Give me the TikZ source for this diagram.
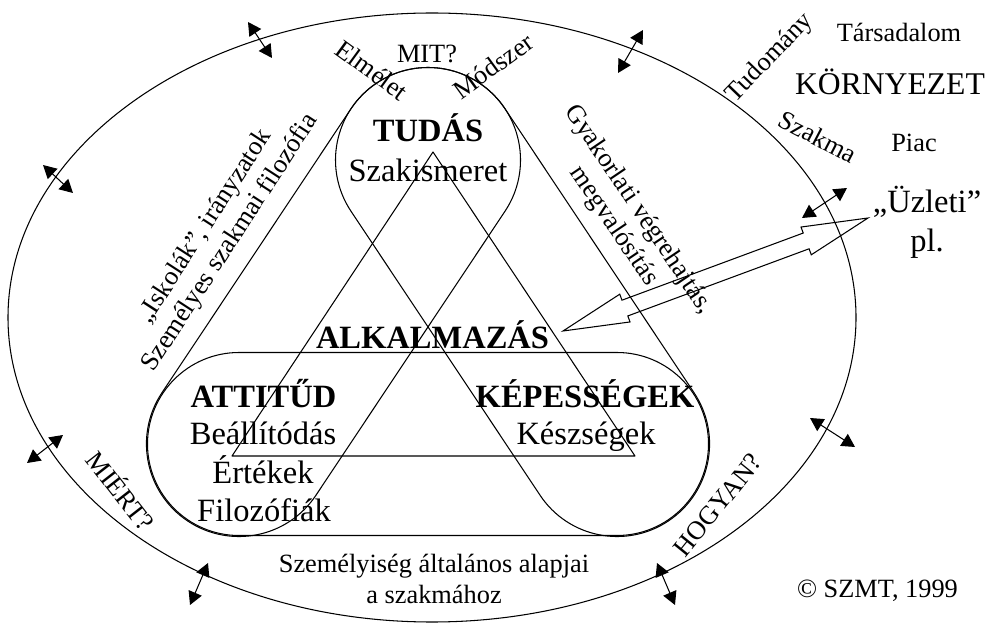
\documentclass[tikz,border=0pt]{standalone}
\usepackage{fontspec}
\setmainfont{Liberation Serif}
\usetikzlibrary{arrows.meta}

\tikzset{
  lbl/.style={font=\fontsize{15}{17}\selectfont, inner sep=0pt, align=center},
  lblbig/.style={font=\fontsize{18.5}{22}\selectfont, inner sep=0pt},
  lblbold/.style={font=\fontsize{18.5}{22}\selectfont\bfseries, inner sep=0pt},
  dblarr/.style={{Triangle[length=7.5pt,width=8pt]}-{Triangle[length=7.5pt,width=8pt]}},
}

\begin{document}
\begin{tikzpicture}[x=0.02cm,y=0.02cm,line cap=round,line join=round,line width=0.6pt]
  \useasboundingbox (0,0) rectangle (993,-624);
  \def\R{91.5}
  \def\L{341.2}
  % environment
  \draw (432,-317.5) ellipse (424 and 304.5);
  % the three fields
  \draw (239,-352.5) -- (617,-352.5) arc (90:-90:\R) -- (239,-535.5) arc (270:90:\R);
  \foreach \a in {-56.35,-123.65} {
    \begin{scope}[shift={(428,-160)},rotate=\a]
      \draw (0,\R+1) -- (\L,\R+1) arc (90:-90:\R+1) -- (0,-\R-1) arc (270:90:\R+1);
    \end{scope}
  }
  \draw (433,-152) -- (232,-456) -- (635,-456) -- cycle;
  % links to the environment
  \foreach \xa/\ya/\xb/\yb in {248/22/272/58, 43/165/73/193, 643/30/618/73,
      847/188/802/218, 63/435/27/463, 208/563/190/605, 657/563/675/605, 810/418/855/447} {
    \draw[dblarr] (\xa,-\ya) -- (\xb,-\yb);
  }
  % knowledge
  \node[lbl,anchor=base] (mit) at (427,-63) {MIT?};
  \node[lbl,rotate=-36] (elm) at (372,-70) {Elmélet};
  \node[lbl,rotate=36] (mod) at (493,-66) {Módszer};
  \node[lblbold,anchor=base] (tud) at (428,-142) {TUDÁS};
  \node[lblbig,anchor=base] (szak) at (428,-182) {Szakismeret};
  % attitude
  \node[lblbold,anchor=base] (att) at (263.5,-407) {ATTITŰD};
  \node[lblbig,anchor=base] (beal) at (263,-444) {Beállítódás};
  \node[lblbig,anchor=base] (ert) at (263,-483) {Értékek};
  \node[lblbig,anchor=base] (fil) at (264,-521) {Filozófiák};
  % abilities
  \node[lblbold,anchor=base] (kep) at (585,-407) {KÉPESSÉGEK};
  \node[lblbig,anchor=base] (kesz) at (586,-444) {Készségek};
  \node[lblbold,anchor=base] (alk) at (432.5,-349) {ALKALMAZÁS};
  % side texts
  \node[lbl,rotate=57] (isk) at (218,-235) {„Iskolák”, irányzatok\\Személyes szakmai filozófia};
  \node[lbl,rotate=-56] (gyak) at (626,-218) {Gyakorlati végrehajtás,\\megvalósítás};
  \node[lbl,rotate=-52] (miert) at (122,-490) {MIÉRT?};
  \node[lbl,rotate=51] (hogy) at (718,-505) {HOGYAN?};
  \node[lbl,anchor=base] (szem) at (434,-572) {Személyiség általános alapjai};
  \node[lbl,anchor=base] (szhoz) at (434,-603) {a szakmához};
  % environment texts
  \node[lbl,rotate=46] (tudom) at (770,-58) {Tudomány};
  \node[lbl,anchor=base] (tars) at (899,-42) {Társadalom};
  \node[font=\fontsize{18}{22}\selectfont,inner sep=0pt,anchor=base] (korny) at (890,-95) {KÖRNYEZET};
  \node[lbl,rotate=-27.5] (szakma) at (818,-137) {Szakma};
  \node[lbl,anchor=base] (piac) at (914,-152) {Piac};
  \node[lblbig,anchor=base] (uzl) at (927,-213) {„Üzleti”};
  \node[lblbig,anchor=base] (pl) at (927,-252) {pl.};
  \node[lbl,anchor=base] (copy) at (877.5,-597) {© SZMT, 1999};
  % application arrow
  \coordinate (alkTip) at (563,-331);
  \coordinate (uzlTip) at (868,-218);
  \begin{scope}[shift={(alkTip)},rotate=20.33]
    \draw[line join=miter] (alkTip) -- (66,14.8) -- (66,8.4) -- (259.3,8.4) -- (259.3,14.8)
      -- (uzlTip) -- (259.3,-14.8) -- (259.3,-8.4) -- (66,-8.4) -- (66,-14.8) -- cycle;
  \end{scope}
\end{tikzpicture}
\end{document}
